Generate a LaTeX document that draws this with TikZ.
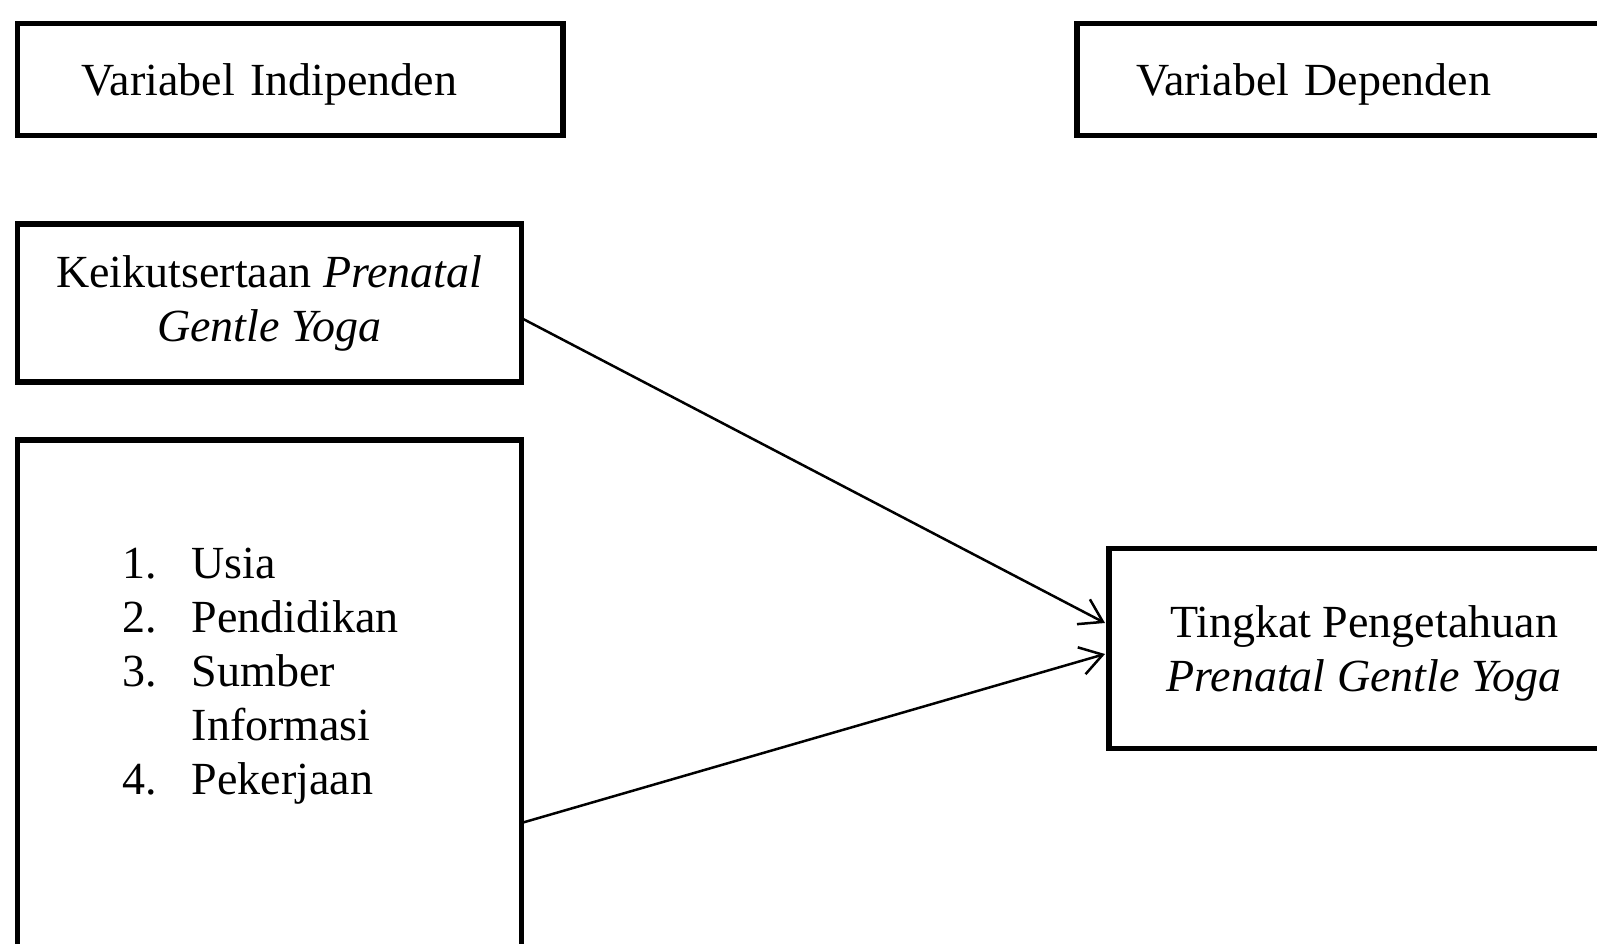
\documentclass[tikz,border=0pt]{standalone}
\usepackage{fontspec}
\setmainfont{Liberation Serif}
\usetikzlibrary{positioning,arrows.meta}

\begin{document}
\begin{tikzpicture}[x=1pt,y=-1pt,
        varbox/.style={draw, rectangle, line width=5.5pt, outer sep=0pt, anchor=north west, font=\fontsize{46}{54}\selectfont},
        >={Straight Barb[length=22pt,width=28pt]}]
            \useasboundingbox (0,0) rectangle (1597,944);
            \clip (0,0) rectangle (1597,944);

            \node (indep) [varbox, minimum height=112pt, text width=417pt, inner xsep=64.3pt, text depth=0pt, align=left] at (17.3,23.5) {Variabel Indipenden};
            \node (dep) [varbox, minimum height=112pt, text width=427pt, inner xsep=59pt, text depth=0pt, align=left] at (1077,23.5) {Variabel Dependen};
            \node (keik) [varbox, minimum width=504pt, minimum height=158pt, align=center] at (17.3,224) {Keikutsertaan \textit{Prenatal}\\ \textit{Gentle Yoga}};
            \node (faktor) [varbox, minimum width=504pt, minimum height=600pt] at (17.3,440) {};
            \node (faktorlist) [anchor=north west, inner sep=0pt, font=\fontsize{46}{54}\selectfont] at (122,540.2) {%
                \begin{tabular}{@{}l@{\hspace{35pt}}l@{}}
                    1. & Usia\\
                    2. & Pendidikan\\
                    3. & Sumber\\
                       & Informasi\\
                    4. & Pekerjaan
                \end{tabular}};
            \node (tingkat) [varbox, minimum width=510pt, minimum height=200pt, text depth=0pt, align=center] at (1109,548.5) {Tingkat Pengetahuan\\ \textit{Prenatal Gentle Yoga}};

            \path[->, line width=2.5pt] ([yshift=-15pt]keik.east) edge ([yshift=25.5pt, xshift=-4pt]tingkat.west);
            \path[->, line width=2.5pt] ([yshift=-83pt]faktor.east) edge ([yshift=-5.5pt, xshift=-4pt]tingkat.west);
        \end{tikzpicture}
\end{document}
